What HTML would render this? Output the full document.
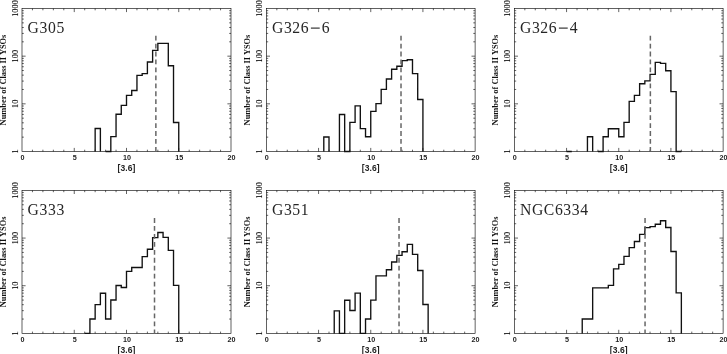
<!DOCTYPE html>
<html><head><meta charset="utf-8"><style>
html,body{margin:0;padding:0;background:#fff;}
body{width:727px;height:354px;overflow:hidden;}
svg{display:block;filter:grayscale(100%);}
.t{font-family:"Liberation Serif",serif;font-size:15.7px;fill:#262626;letter-spacing:0.6px;}
.xt{font-family:"Liberation Sans",sans-serif;font-weight:bold;font-size:7.2px;text-anchor:middle;fill:#222;}
.xl{font-family:"Liberation Sans",sans-serif;font-weight:bold;font-size:8.5px;text-anchor:middle;fill:#222;letter-spacing:0.1px;}
.yt{font-family:"Liberation Serif",serif;font-size:8.3px;text-anchor:middle;fill:#000;stroke:#000;stroke-width:0.1px;}
.yl{font-family:"Liberation Serif",serif;font-weight:bold;font-size:8.4px;text-anchor:middle;fill:#111;}
</style></head>
<body><svg width="727" height="354" viewBox="0 0 727 354">
<rect width="727" height="354" fill="#fff"/>
<g><path d="M32.45 151.5v-1.8M32.45 8.5v1.8M42.9 151.5v-1.8M42.9 8.5v1.8M53.35 151.5v-1.8M53.35 8.5v1.8M63.8 151.5v-1.8M63.8 8.5v1.8M74.25 151.5v-3.6M74.25 8.5v3.6M84.7 151.5v-1.8M84.7 8.5v1.8M95.15 151.5v-1.8M95.15 8.5v1.8M105.6 151.5v-1.8M105.6 8.5v1.8M116.05 151.5v-1.8M116.05 8.5v1.8M126.5 151.5v-3.6M126.5 8.5v3.6M136.95 151.5v-1.8M136.95 8.5v1.8M147.4 151.5v-1.8M147.4 8.5v1.8M157.85 151.5v-1.8M157.85 8.5v1.8M168.3 151.5v-1.8M168.3 8.5v1.8M178.75 151.5v-3.6M178.75 8.5v3.6M189.2 151.5v-1.8M189.2 8.5v1.8M199.65 151.5v-1.8M199.65 8.5v1.8M210.1 151.5v-1.8M210.1 8.5v1.8M220.55 151.5v-1.8M220.55 8.5v1.8M22 137.15h1.8M231 137.15h-1.8M22 128.76h1.8M231 128.76h-1.8M22 122.8h1.8M231 122.8h-1.8M22 118.18h1.8M231 118.18h-1.8M22 114.41h1.8M231 114.41h-1.8M22 111.22h1.8M231 111.22h-1.8M22 108.45h1.8M231 108.45h-1.8M22 106.01h1.8M231 106.01h-1.8M22 103.83h3.6M231 103.83h-3.6M22 89.48h1.8M231 89.48h-1.8M22 81.09h1.8M231 81.09h-1.8M22 75.14h1.8M231 75.14h-1.8M22 70.52h1.8M231 70.52h-1.8M22 66.74h1.8M231 66.74h-1.8M22 63.55h1.8M231 63.55h-1.8M22 60.79h1.8M231 60.79h-1.8M22 58.35h1.8M231 58.35h-1.8M22 56.17h3.6M231 56.17h-3.6M22 41.82h1.8M231 41.82h-1.8M22 33.42h1.8M231 33.42h-1.8M22 27.47h1.8M231 27.47h-1.8M22 22.85h1.8M231 22.85h-1.8M22 19.07h1.8M231 19.07h-1.8M22 15.88h1.8M231 15.88h-1.8M22 13.12h1.8M231 13.12h-1.8M22 10.68h1.8M231 10.68h-1.8" stroke="#000" stroke-width="0.62" fill="none"/><rect x="22" y="8.5" width="209" height="143" fill="none" stroke="#000" stroke-width="0.62"/><path d="M95.15 151.5V128.5H100.38V151.5M105.6 151.5V151.5H110.82V136.6H116.05V114.2H121.27V105.4H126.5V95.3H131.72V90.5H136.95V75.3H142.18V73.6H147.4V62H152.62V50.4H157.85V43.3H163.07V43.3H168.3V65.7H173.52V122.5H178.75V151.5" stroke="#111" stroke-width="1.35" fill="none" stroke-linejoin="miter"/><path d="M155.86 35.7V151.5" stroke="#666" stroke-width="1.5" stroke-dasharray="4.8 3.15"/><text x="27.6" y="33.1" class="t">G305</text><text x="22.4" y="160.3" class="xt">0</text><text x="74.65" y="160.3" class="xt">5</text><text x="126.9" y="160.3" class="xt">10</text><text x="179.15" y="160.3" class="xt">15</text><text x="231.4" y="160.3" class="xt">20</text><text x="126.5" y="170.8" class="xl">[3.6]</text><text transform="translate(18 151.5) rotate(-90)" class="yt">1</text><text transform="translate(18 103.83) rotate(-90)" class="yt">10</text><text transform="translate(18 56.17) rotate(-90)" class="yt">100</text><text transform="translate(18 8.5) rotate(-90)" class="yt">1000</text><text transform="translate(6 80) rotate(-90)" class="yl">Number of Class II YSOs</text></g>
<g><path d="M276.83 151.5v-1.8M276.83 8.5v1.8M287.27 151.5v-1.8M287.27 8.5v1.8M297.7 151.5v-1.8M297.7 8.5v1.8M308.14 151.5v-1.8M308.14 8.5v1.8M318.57 151.5v-3.6M318.57 8.5v3.6M329.01 151.5v-1.8M329.01 8.5v1.8M339.44 151.5v-1.8M339.44 8.5v1.8M349.88 151.5v-1.8M349.88 8.5v1.8M360.31 151.5v-1.8M360.31 8.5v1.8M370.75 151.5v-3.6M370.75 8.5v3.6M381.18 151.5v-1.8M381.18 8.5v1.8M391.62 151.5v-1.8M391.62 8.5v1.8M402.05 151.5v-1.8M402.05 8.5v1.8M412.49 151.5v-1.8M412.49 8.5v1.8M422.92 151.5v-3.6M422.92 8.5v3.6M433.36 151.5v-1.8M433.36 8.5v1.8M443.79 151.5v-1.8M443.79 8.5v1.8M454.23 151.5v-1.8M454.23 8.5v1.8M464.66 151.5v-1.8M464.66 8.5v1.8M266.4 137.15h1.8M475.1 137.15h-1.8M266.4 128.76h1.8M475.1 128.76h-1.8M266.4 122.8h1.8M475.1 122.8h-1.8M266.4 118.18h1.8M475.1 118.18h-1.8M266.4 114.41h1.8M475.1 114.41h-1.8M266.4 111.22h1.8M475.1 111.22h-1.8M266.4 108.45h1.8M475.1 108.45h-1.8M266.4 106.01h1.8M475.1 106.01h-1.8M266.4 103.83h3.6M475.1 103.83h-3.6M266.4 89.48h1.8M475.1 89.48h-1.8M266.4 81.09h1.8M475.1 81.09h-1.8M266.4 75.14h1.8M475.1 75.14h-1.8M266.4 70.52h1.8M475.1 70.52h-1.8M266.4 66.74h1.8M475.1 66.74h-1.8M266.4 63.55h1.8M475.1 63.55h-1.8M266.4 60.79h1.8M475.1 60.79h-1.8M266.4 58.35h1.8M475.1 58.35h-1.8M266.4 56.17h3.6M475.1 56.17h-3.6M266.4 41.82h1.8M475.1 41.82h-1.8M266.4 33.42h1.8M475.1 33.42h-1.8M266.4 27.47h1.8M475.1 27.47h-1.8M266.4 22.85h1.8M475.1 22.85h-1.8M266.4 19.07h1.8M475.1 19.07h-1.8M266.4 15.88h1.8M475.1 15.88h-1.8M266.4 13.12h1.8M475.1 13.12h-1.8M266.4 10.68h1.8M475.1 10.68h-1.8" stroke="#000" stroke-width="0.62" fill="none"/><rect x="266.4" y="8.5" width="208.7" height="143" fill="none" stroke="#000" stroke-width="0.62"/><path d="M323.79 151.5V137H329.01V151.5M339.44 151.5V114.5H344.66V151.5H349.88V122.4H355.1V105.8H360.31V128.6H365.53V136.7H370.75V111.3H375.97V103.6H381.18V89.4H386.4V79H391.62V69.2H396.84V66.2H402.05V60.6H407.27V59.7H412.49V73.6H417.71V99.5H422.92V151.5" stroke="#111" stroke-width="1.35" fill="none" stroke-linejoin="miter"/><path d="M401.01 35.7V151.5" stroke="#666" stroke-width="1.5" stroke-dasharray="4.8 3.15"/><text x="272" y="33.1" class="t">G326</text><path d="M310.9 28.1h8.8" stroke="#222" stroke-width="1.1"/><text x="321.7" y="33.1" class="t">6</text><text x="266.8" y="160.3" class="xt">0</text><text x="318.97" y="160.3" class="xt">5</text><text x="371.15" y="160.3" class="xt">10</text><text x="423.32" y="160.3" class="xt">15</text><text x="475.5" y="160.3" class="xt">20</text><text x="370.75" y="170.8" class="xl">[3.6]</text><text transform="translate(262.4 151.5) rotate(-90)" class="yt">1</text><text transform="translate(262.4 103.83) rotate(-90)" class="yt">10</text><text transform="translate(262.4 56.17) rotate(-90)" class="yt">100</text><text transform="translate(262.4 8.5) rotate(-90)" class="yt">1000</text><text transform="translate(250.4 80) rotate(-90)" class="yl">Number of Class II YSOs</text></g>
<g><path d="M524.83 151.5v-1.8M524.83 8.5v1.8M535.27 151.5v-1.8M535.27 8.5v1.8M545.7 151.5v-1.8M545.7 8.5v1.8M556.14 151.5v-1.8M556.14 8.5v1.8M566.57 151.5v-3.6M566.57 8.5v3.6M577.01 151.5v-1.8M577.01 8.5v1.8M587.44 151.5v-1.8M587.44 8.5v1.8M597.88 151.5v-1.8M597.88 8.5v1.8M608.31 151.5v-1.8M608.31 8.5v1.8M618.75 151.5v-3.6M618.75 8.5v3.6M629.18 151.5v-1.8M629.18 8.5v1.8M639.62 151.5v-1.8M639.62 8.5v1.8M650.05 151.5v-1.8M650.05 8.5v1.8M660.49 151.5v-1.8M660.49 8.5v1.8M670.92 151.5v-3.6M670.92 8.5v3.6M681.36 151.5v-1.8M681.36 8.5v1.8M691.79 151.5v-1.8M691.79 8.5v1.8M702.23 151.5v-1.8M702.23 8.5v1.8M712.66 151.5v-1.8M712.66 8.5v1.8M514.4 137.15h1.8M723.1 137.15h-1.8M514.4 128.76h1.8M723.1 128.76h-1.8M514.4 122.8h1.8M723.1 122.8h-1.8M514.4 118.18h1.8M723.1 118.18h-1.8M514.4 114.41h1.8M723.1 114.41h-1.8M514.4 111.22h1.8M723.1 111.22h-1.8M514.4 108.45h1.8M723.1 108.45h-1.8M514.4 106.01h1.8M723.1 106.01h-1.8M514.4 103.83h3.6M723.1 103.83h-3.6M514.4 89.48h1.8M723.1 89.48h-1.8M514.4 81.09h1.8M723.1 81.09h-1.8M514.4 75.14h1.8M723.1 75.14h-1.8M514.4 70.52h1.8M723.1 70.52h-1.8M514.4 66.74h1.8M723.1 66.74h-1.8M514.4 63.55h1.8M723.1 63.55h-1.8M514.4 60.79h1.8M723.1 60.79h-1.8M514.4 58.35h1.8M723.1 58.35h-1.8M514.4 56.17h3.6M723.1 56.17h-3.6M514.4 41.82h1.8M723.1 41.82h-1.8M514.4 33.42h1.8M723.1 33.42h-1.8M514.4 27.47h1.8M723.1 27.47h-1.8M514.4 22.85h1.8M723.1 22.85h-1.8M514.4 19.07h1.8M723.1 19.07h-1.8M514.4 15.88h1.8M723.1 15.88h-1.8M514.4 13.12h1.8M723.1 13.12h-1.8M514.4 10.68h1.8M723.1 10.68h-1.8" stroke="#000" stroke-width="0.62" fill="none"/><rect x="514.4" y="8.5" width="208.7" height="143" fill="none" stroke="#000" stroke-width="0.62"/><path d="M566.57 151.5V151.5H571.79V151.5M587.44 151.5V136.7H592.66V151.5M597.88 151.5V151.5H603.1V136.7H608.31V128.7H613.53V128.7H618.75V136.7H623.97V122.4H629.18V101.4H634.4V95.4H639.62V83.7H644.84V80.8H650.05V74.3H655.27V62.3H660.49V63.4H665.71V70.7H670.92V91.6H676.14V151.5H681.36V151.5" stroke="#111" stroke-width="1.35" fill="none" stroke-linejoin="miter"/><path d="M650.37 35.7V151.5" stroke="#666" stroke-width="1.5" stroke-dasharray="4.8 3.15"/><text x="520" y="33.1" class="t">G326</text><path d="M558.9 28.1h8.8" stroke="#222" stroke-width="1.1"/><text x="569.7" y="33.1" class="t">4</text><text x="514.8" y="160.3" class="xt">0</text><text x="566.97" y="160.3" class="xt">5</text><text x="619.15" y="160.3" class="xt">10</text><text x="671.32" y="160.3" class="xt">15</text><text x="723.5" y="160.3" class="xt">20</text><text x="618.75" y="170.8" class="xl">[3.6]</text><text transform="translate(510.4 151.5) rotate(-90)" class="yt">1</text><text transform="translate(510.4 103.83) rotate(-90)" class="yt">10</text><text transform="translate(510.4 56.17) rotate(-90)" class="yt">100</text><text transform="translate(510.4 8.5) rotate(-90)" class="yt">1000</text><text transform="translate(498.4 80) rotate(-90)" class="yl">Number of Class II YSOs</text></g>
<g><path d="M32.45 333.4v-1.8M32.45 190.4v1.8M42.9 333.4v-1.8M42.9 190.4v1.8M53.35 333.4v-1.8M53.35 190.4v1.8M63.8 333.4v-1.8M63.8 190.4v1.8M74.25 333.4v-3.6M74.25 190.4v3.6M84.7 333.4v-1.8M84.7 190.4v1.8M95.15 333.4v-1.8M95.15 190.4v1.8M105.6 333.4v-1.8M105.6 190.4v1.8M116.05 333.4v-1.8M116.05 190.4v1.8M126.5 333.4v-3.6M126.5 190.4v3.6M136.95 333.4v-1.8M136.95 190.4v1.8M147.4 333.4v-1.8M147.4 190.4v1.8M157.85 333.4v-1.8M157.85 190.4v1.8M168.3 333.4v-1.8M168.3 190.4v1.8M178.75 333.4v-3.6M178.75 190.4v3.6M189.2 333.4v-1.8M189.2 190.4v1.8M199.65 333.4v-1.8M199.65 190.4v1.8M210.1 333.4v-1.8M210.1 190.4v1.8M220.55 333.4v-1.8M220.55 190.4v1.8M22 319.05h1.8M231 319.05h-1.8M22 310.66h1.8M231 310.66h-1.8M22 304.7h1.8M231 304.7h-1.8M22 300.08h1.8M231 300.08h-1.8M22 296.31h1.8M231 296.31h-1.8M22 293.12h1.8M231 293.12h-1.8M22 290.35h1.8M231 290.35h-1.8M22 287.91h1.8M231 287.91h-1.8M22 285.73h3.6M231 285.73h-3.6M22 271.38h1.8M231 271.38h-1.8M22 262.99h1.8M231 262.99h-1.8M22 257.04h1.8M231 257.04h-1.8M22 252.42h1.8M231 252.42h-1.8M22 248.64h1.8M231 248.64h-1.8M22 245.45h1.8M231 245.45h-1.8M22 242.69h1.8M231 242.69h-1.8M22 240.25h1.8M231 240.25h-1.8M22 238.07h3.6M231 238.07h-3.6M22 223.72h1.8M231 223.72h-1.8M22 215.32h1.8M231 215.32h-1.8M22 209.37h1.8M231 209.37h-1.8M22 204.75h1.8M231 204.75h-1.8M22 200.97h1.8M231 200.97h-1.8M22 197.78h1.8M231 197.78h-1.8M22 195.02h1.8M231 195.02h-1.8M22 192.58h1.8M231 192.58h-1.8" stroke="#000" stroke-width="0.62" fill="none"/><rect x="22" y="190.4" width="209" height="143" fill="none" stroke="#000" stroke-width="0.62"/><path d="M84.7 333.4V333.4H89.92V319H95.15V304.6H100.38V293.2H105.6V319H110.82V300H116.05V285.5H121.27V287.5H126.5V271.4H131.72V267.5H136.95V267.5H142.18V256.6H147.4V249.2H152.62V237.6H157.85V232.5H163.07V237.3H168.3V250.3H173.52V285.4H178.75V333.4" stroke="#111" stroke-width="1.35" fill="none" stroke-linejoin="miter"/><path d="M154.51 218.1V333.4" stroke="#666" stroke-width="1.5" stroke-dasharray="4.8 3.15"/><text x="27.6" y="215" class="t">G333</text><text x="22.4" y="342.2" class="xt">0</text><text x="74.65" y="342.2" class="xt">5</text><text x="126.9" y="342.2" class="xt">10</text><text x="179.15" y="342.2" class="xt">15</text><text x="231.4" y="342.2" class="xt">20</text><text x="126.5" y="352.7" class="xl">[3.6]</text><text transform="translate(18 333.4) rotate(-90)" class="yt">1</text><text transform="translate(18 285.73) rotate(-90)" class="yt">10</text><text transform="translate(18 238.07) rotate(-90)" class="yt">100</text><text transform="translate(18 190.4) rotate(-90)" class="yt">1000</text><text transform="translate(6 261.9) rotate(-90)" class="yl">Number of Class II YSOs</text></g>
<g><path d="M276.83 333.4v-1.8M276.83 190.4v1.8M287.27 333.4v-1.8M287.27 190.4v1.8M297.7 333.4v-1.8M297.7 190.4v1.8M308.14 333.4v-1.8M308.14 190.4v1.8M318.57 333.4v-3.6M318.57 190.4v3.6M329.01 333.4v-1.8M329.01 190.4v1.8M339.44 333.4v-1.8M339.44 190.4v1.8M349.88 333.4v-1.8M349.88 190.4v1.8M360.31 333.4v-1.8M360.31 190.4v1.8M370.75 333.4v-3.6M370.75 190.4v3.6M381.18 333.4v-1.8M381.18 190.4v1.8M391.62 333.4v-1.8M391.62 190.4v1.8M402.05 333.4v-1.8M402.05 190.4v1.8M412.49 333.4v-1.8M412.49 190.4v1.8M422.92 333.4v-3.6M422.92 190.4v3.6M433.36 333.4v-1.8M433.36 190.4v1.8M443.79 333.4v-1.8M443.79 190.4v1.8M454.23 333.4v-1.8M454.23 190.4v1.8M464.66 333.4v-1.8M464.66 190.4v1.8M266.4 319.05h1.8M475.1 319.05h-1.8M266.4 310.66h1.8M475.1 310.66h-1.8M266.4 304.7h1.8M475.1 304.7h-1.8M266.4 300.08h1.8M475.1 300.08h-1.8M266.4 296.31h1.8M475.1 296.31h-1.8M266.4 293.12h1.8M475.1 293.12h-1.8M266.4 290.35h1.8M475.1 290.35h-1.8M266.4 287.91h1.8M475.1 287.91h-1.8M266.4 285.73h3.6M475.1 285.73h-3.6M266.4 271.38h1.8M475.1 271.38h-1.8M266.4 262.99h1.8M475.1 262.99h-1.8M266.4 257.04h1.8M475.1 257.04h-1.8M266.4 252.42h1.8M475.1 252.42h-1.8M266.4 248.64h1.8M475.1 248.64h-1.8M266.4 245.45h1.8M475.1 245.45h-1.8M266.4 242.69h1.8M475.1 242.69h-1.8M266.4 240.25h1.8M475.1 240.25h-1.8M266.4 238.07h3.6M475.1 238.07h-3.6M266.4 223.72h1.8M475.1 223.72h-1.8M266.4 215.32h1.8M475.1 215.32h-1.8M266.4 209.37h1.8M475.1 209.37h-1.8M266.4 204.75h1.8M475.1 204.75h-1.8M266.4 200.97h1.8M475.1 200.97h-1.8M266.4 197.78h1.8M475.1 197.78h-1.8M266.4 195.02h1.8M475.1 195.02h-1.8M266.4 192.58h1.8M475.1 192.58h-1.8" stroke="#000" stroke-width="0.62" fill="none"/><rect x="266.4" y="190.4" width="208.7" height="143" fill="none" stroke="#000" stroke-width="0.62"/><path d="M334.23 333.4V310.8H339.44V333.4H344.66V300.2H349.88V310.5H355.1V293.1H360.31V333.4H365.53V319H370.75V300.1H375.97V275.9H381.18V275.9H386.4V269.7H391.62V262H396.84V255.3H402.05V251.7H407.27V244.3H412.49V254.3H417.71V270.5H422.92V304.5H428.14V333.4" stroke="#111" stroke-width="1.35" fill="none" stroke-linejoin="miter"/><path d="M399.03 218.1V333.4" stroke="#666" stroke-width="1.5" stroke-dasharray="4.8 3.15"/><text x="272" y="215" class="t">G351</text><text x="266.8" y="342.2" class="xt">0</text><text x="318.97" y="342.2" class="xt">5</text><text x="371.15" y="342.2" class="xt">10</text><text x="423.32" y="342.2" class="xt">15</text><text x="475.5" y="342.2" class="xt">20</text><text x="370.75" y="352.7" class="xl">[3.6]</text><text transform="translate(262.4 333.4) rotate(-90)" class="yt">1</text><text transform="translate(262.4 285.73) rotate(-90)" class="yt">10</text><text transform="translate(262.4 238.07) rotate(-90)" class="yt">100</text><text transform="translate(262.4 190.4) rotate(-90)" class="yt">1000</text><text transform="translate(250.4 261.9) rotate(-90)" class="yl">Number of Class II YSOs</text></g>
<g><path d="M524.83 333.4v-1.8M524.83 190.4v1.8M535.27 333.4v-1.8M535.27 190.4v1.8M545.7 333.4v-1.8M545.7 190.4v1.8M556.14 333.4v-1.8M556.14 190.4v1.8M566.57 333.4v-3.6M566.57 190.4v3.6M577.01 333.4v-1.8M577.01 190.4v1.8M587.44 333.4v-1.8M587.44 190.4v1.8M597.88 333.4v-1.8M597.88 190.4v1.8M608.31 333.4v-1.8M608.31 190.4v1.8M618.75 333.4v-3.6M618.75 190.4v3.6M629.18 333.4v-1.8M629.18 190.4v1.8M639.62 333.4v-1.8M639.62 190.4v1.8M650.05 333.4v-1.8M650.05 190.4v1.8M660.49 333.4v-1.8M660.49 190.4v1.8M670.92 333.4v-3.6M670.92 190.4v3.6M681.36 333.4v-1.8M681.36 190.4v1.8M691.79 333.4v-1.8M691.79 190.4v1.8M702.23 333.4v-1.8M702.23 190.4v1.8M712.66 333.4v-1.8M712.66 190.4v1.8M514.4 319.05h1.8M723.1 319.05h-1.8M514.4 310.66h1.8M723.1 310.66h-1.8M514.4 304.7h1.8M723.1 304.7h-1.8M514.4 300.08h1.8M723.1 300.08h-1.8M514.4 296.31h1.8M723.1 296.31h-1.8M514.4 293.12h1.8M723.1 293.12h-1.8M514.4 290.35h1.8M723.1 290.35h-1.8M514.4 287.91h1.8M723.1 287.91h-1.8M514.4 285.73h3.6M723.1 285.73h-3.6M514.4 271.38h1.8M723.1 271.38h-1.8M514.4 262.99h1.8M723.1 262.99h-1.8M514.4 257.04h1.8M723.1 257.04h-1.8M514.4 252.42h1.8M723.1 252.42h-1.8M514.4 248.64h1.8M723.1 248.64h-1.8M514.4 245.45h1.8M723.1 245.45h-1.8M514.4 242.69h1.8M723.1 242.69h-1.8M514.4 240.25h1.8M723.1 240.25h-1.8M514.4 238.07h3.6M723.1 238.07h-3.6M514.4 223.72h1.8M723.1 223.72h-1.8M514.4 215.32h1.8M723.1 215.32h-1.8M514.4 209.37h1.8M723.1 209.37h-1.8M514.4 204.75h1.8M723.1 204.75h-1.8M514.4 200.97h1.8M723.1 200.97h-1.8M514.4 197.78h1.8M723.1 197.78h-1.8M514.4 195.02h1.8M723.1 195.02h-1.8M514.4 192.58h1.8M723.1 192.58h-1.8" stroke="#000" stroke-width="0.62" fill="none"/><rect x="514.4" y="190.4" width="208.7" height="143" fill="none" stroke="#000" stroke-width="0.62"/><path d="M582.23 333.4V319H587.44V319H592.66V287.8H597.88V287.8H603.1V287.8H608.31V285.4H613.53V268.8H618.75V264.4H623.97V256.4H629.18V247.6H634.4V241.5H639.62V234.3H644.84V227.6H650.05V226.6H655.27V224.2H660.49V220.7H665.71V227.5H670.92V251.5H676.14V292.8H681.36V333.4" stroke="#111" stroke-width="1.35" fill="none" stroke-linejoin="miter"/><path d="M645.05 218.1V333.4" stroke="#666" stroke-width="1.5" stroke-dasharray="4.8 3.15"/><text x="520" y="215" class="t">NGC6334</text><text x="514.8" y="342.2" class="xt">0</text><text x="566.97" y="342.2" class="xt">5</text><text x="619.15" y="342.2" class="xt">10</text><text x="671.32" y="342.2" class="xt">15</text><text x="723.5" y="342.2" class="xt">20</text><text x="618.75" y="352.7" class="xl">[3.6]</text><text transform="translate(510.4 333.4) rotate(-90)" class="yt">1</text><text transform="translate(510.4 285.73) rotate(-90)" class="yt">10</text><text transform="translate(510.4 238.07) rotate(-90)" class="yt">100</text><text transform="translate(510.4 190.4) rotate(-90)" class="yt">1000</text><text transform="translate(498.4 261.9) rotate(-90)" class="yl">Number of Class II YSOs</text></g>
</svg></body></html>
